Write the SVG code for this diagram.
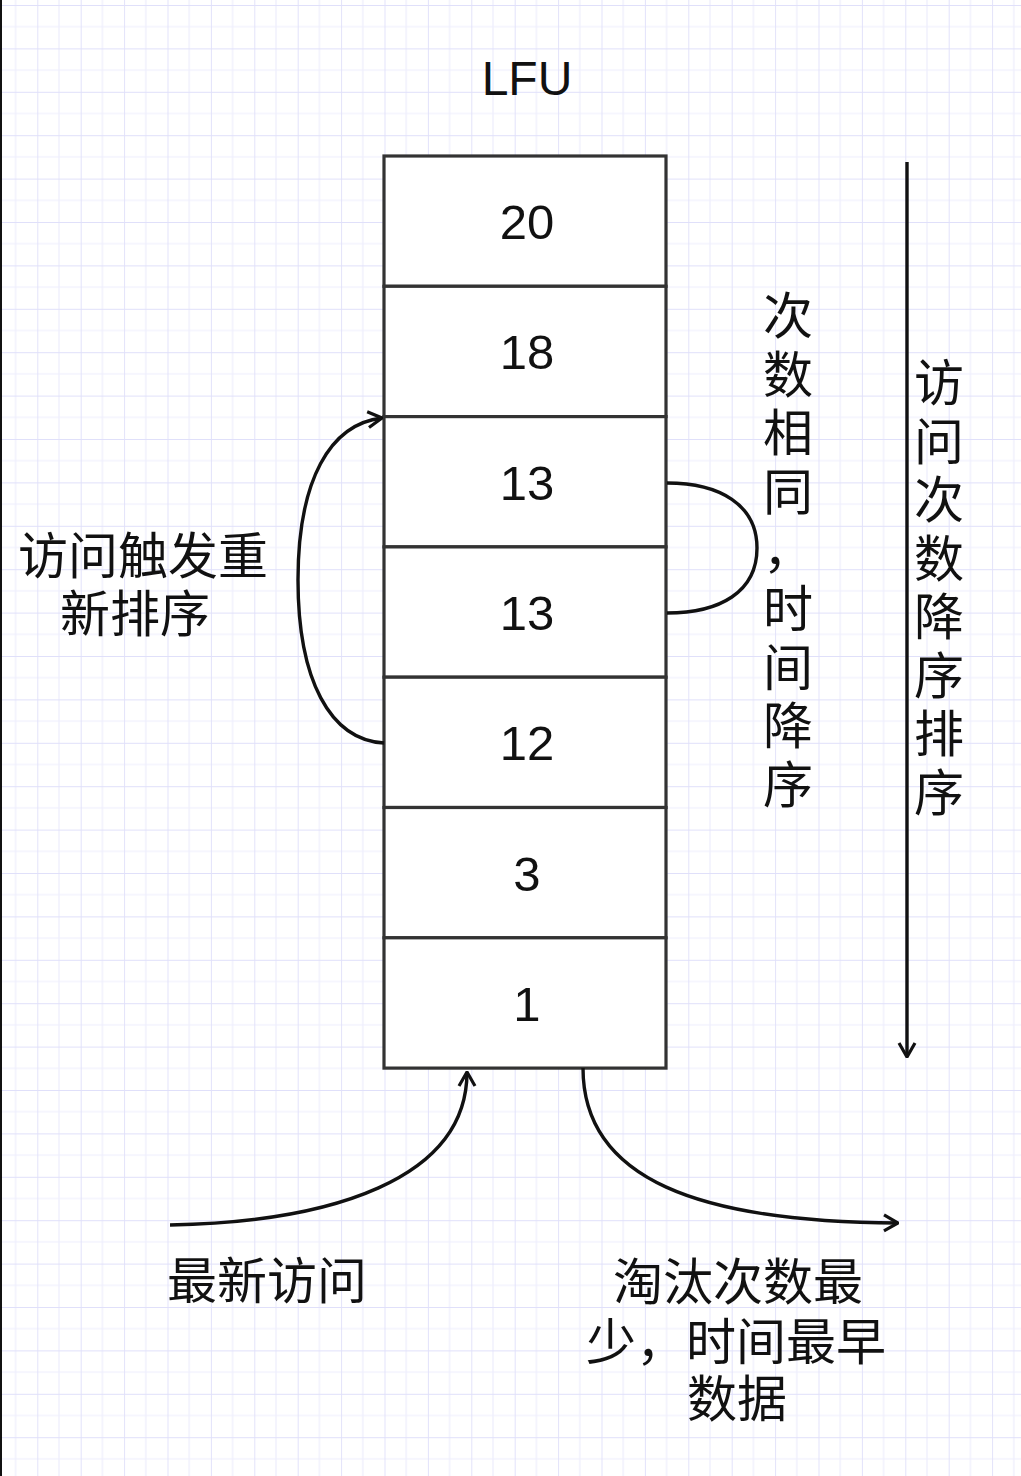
<svg xmlns="http://www.w3.org/2000/svg" width="1021" height="1476" viewBox="0 0 1021 1476">
  <defs>
    <pattern id="grid" patternUnits="userSpaceOnUse" x="37.3" y="5" width="43.4" height="43.4">
      <rect width="43.4" height="43.4" fill="#ffffff"/>
      <path d="M21.7 0V43.4M0 21.7H43.4" stroke="#eeeefd" stroke-width="1.2" fill="none"/>
      <path d="M0 0V43.4M0 0H43.4" stroke="#e0e0fa" stroke-width="1.8" fill="none"/>
    </pattern>
    <marker id="arrOpen" viewBox="0 0 20 20" refX="19" refY="10" markerWidth="20" markerHeight="20" orient="auto" markerUnits="userSpaceOnUse">
      <path d="M5 2L19 10L5 18" fill="none" stroke="#111" stroke-width="3.2"/>
    </marker>
  </defs>
  <style>
    .cell { fill: #ffffff; stroke: #333333; stroke-width: 3.2; }
    .num { font-family: "Liberation Sans", Arial, sans-serif; font-size: 49px; fill: #111; text-anchor: middle; }
    .cn { font-family: "Noto Sans CJK SC", "Noto Sans", sans-serif; font-size: 50px; fill: #111; text-anchor: middle; }
    .conn { fill: none; stroke: #111; stroke-width: 3.4; }
  </style>
  <rect width="1021" height="1476" fill="url(#grid)"/>
  <rect x="0" y="0" width="2" height="1476" fill="#111"/>

  <g id="title">
    <text class="num" x="527" y="95" style="font-size:48px">LFU</text>
  </g>

  <g id="cell-20"><rect class="cell" x="384" y="156" width="282" height="130.3"/><text class="num" x="527" y="239">20</text></g>
  <g id="cell-18"><rect class="cell" x="384" y="286.3" width="282" height="130.3"/><text class="num" x="527" y="369">18</text></g>
  <g id="cell-13a"><rect class="cell" x="384" y="416.6" width="282" height="130.3"/><text class="num" x="527" y="500">13</text></g>
  <g id="cell-13b"><rect class="cell" x="384" y="546.9" width="282" height="130.3"/><text class="num" x="527" y="630">13</text></g>
  <g id="cell-12"><rect class="cell" x="384" y="677.2" width="282" height="130.3"/><text class="num" x="527" y="760">12</text></g>
  <g id="cell-3"><rect class="cell" x="384" y="807.5" width="282" height="130.3"/><text class="num" x="527" y="891">3</text></g>
  <g id="cell-1"><rect class="cell" x="384" y="937.8" width="282" height="130.3"/><text class="num" x="527" y="1021">1</text></g>

  <g id="connectors">
    <path class="conn" d="M384 743C330 740 298 680 298 580C298 480 330 424 382 418" marker-end="url(#arrOpen)"/>
    <path class="conn" d="M667 483C720 483 757 505 757 548C757 592 720 613 667 613"/>
    <path class="conn" d="M170 1225C330 1222 467 1180 467 1072" marker-end="url(#arrOpen)"/>
    <path class="conn" d="M583 1068C583 1180 700 1222 898 1223" marker-end="url(#arrOpen)"/>
    <path class="conn" d="M907 162V1057" stroke-width="3.8" marker-end="url(#arrOpen)"/>
  </g>

  <g id="label-reorder">
    <text class="cn" x="143" y="574">访问触发重</text>
    <text class="cn" x="135" y="632">新排序</text>
  </g>

  <g id="label-same-count">
    <text class="cn" x="788" y="334">次</text>
    <text class="cn" x="788" y="393">数</text>
    <text class="cn" x="788" y="451">相</text>
    <text class="cn" x="788" y="510">同</text>
    <text class="cn" x="788" y="568">，</text>
    <text class="cn" x="788" y="627">时</text>
    <text class="cn" x="788" y="686">间</text>
    <text class="cn" x="788" y="744">降</text>
    <text class="cn" x="788" y="803">序</text>
  </g>

  <g id="label-desc">
    <text class="cn" x="939" y="401">访</text>
    <text class="cn" x="939" y="460">问</text>
    <text class="cn" x="939" y="518">次</text>
    <text class="cn" x="939" y="577">数</text>
    <text class="cn" x="939" y="635">降</text>
    <text class="cn" x="939" y="694">序</text>
    <text class="cn" x="939" y="752">排</text>
    <text class="cn" x="939" y="811">序</text>
  </g>

  <g id="label-newest">
    <text class="cn" x="267" y="1299">最新访问</text>
  </g>

  <g id="label-evict">
    <text class="cn" x="738" y="1300">淘汰次数最</text>
    <text class="cn" x="736" y="1360">少，时间最早</text>
    <text class="cn" x="737" y="1417">数据</text>
  </g>
</svg>
